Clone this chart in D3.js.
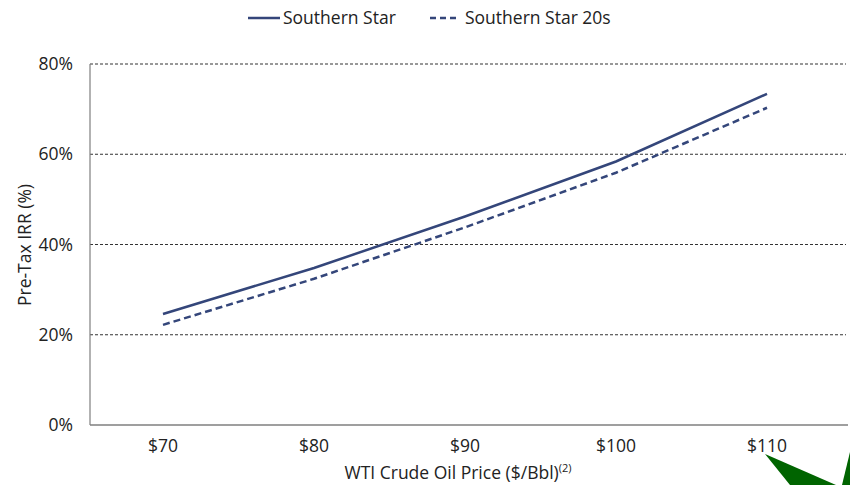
<!DOCTYPE html>
<html>
<head>
<meta charset="utf-8">
<script src="https://cdn.jsdelivr.net/npm/d3@7"></script>
<style>
  body { margin: 0; background: #fff; }
  svg text { font-family: "Open Sans", "Noto Sans", sans-serif; fill: #222; }
</style>
</head>
<body>
<div id="chart"></div>
<script>
// data
const prices = ["$70", "$80", "$90", "$100", "$110"];
const southernStar = [24.6, 34.8, 46.2, 58.4, 73.4];
const southernStar20s = [22.2, 32.4, 43.8, 55.9, 70.3];
const yTicks = [0, 20, 40, 60, 80];

const width = 850, height = 485;
const plotLeft = 90, plotRight = 848, plotTop = 64, plotBottom = 425;
const navy = "#34467a";
const fontSize = "17.5px";

const svg = d3.select("#chart").append("svg")
    .attr("width", width).attr("height", height);

const x = d3.scalePoint().domain(prices).range([87.5, 842.5]).padding(0.5);
const y = d3.scaleLinear().domain([0, 80]).range([plotBottom, plotTop]);

// dashed gridlines
svg.append("g").selectAll("line")
    .data(yTicks.filter(d => d > 0))
    .enter().append("line")
    .attr("x1", plotLeft).attr("x2", plotRight - 2)
    .attr("y1", d => y(d)).attr("y2", d => y(d))
    .attr("stroke", "#333").attr("stroke-width", 1)
    .attr("stroke-dasharray", "3,2");

// axes frame
svg.append("line").attr("x1", plotLeft).attr("x2", plotLeft)
    .attr("y1", plotTop).attr("y2", plotBottom)
    .attr("stroke", "#7f7f7f").attr("stroke-width", 1.2);
svg.append("line").attr("x1", plotLeft).attr("x2", plotRight)
    .attr("y1", plotBottom).attr("y2", plotBottom)
    .attr("stroke", "#7f7f7f").attr("stroke-width", 1.5);

// y tick labels
svg.append("g").selectAll("text")
    .data(yTicks)
    .enter().append("text")
    .attr("x", 73).attr("y", d => y(d))
    .attr("dy", "0.35em")
    .attr("text-anchor", "end")
    .style("font-size", fontSize)
    .text(d => d + "%");

// x tick labels
svg.append("g").selectAll("text")
    .data(prices)
    .enter().append("text")
    .attr("x", d => x(d)).attr("y", 452)
    .attr("text-anchor", "middle")
    .style("font-size", fontSize)
    .text(d => d);

// axis titles
svg.append("text")
    .attr("transform", "translate(31,245) rotate(-90)")
    .attr("text-anchor", "middle")
    .style("font-size", fontSize)
    .text("Pre-Tax IRR (%)");

const xt = svg.append("text")
    .attr("x", 458).attr("y", 479)
    .attr("text-anchor", "middle")
    .style("font-size", fontSize);
xt.append("tspan").text("WTI Crude Oil Price ($/Bbl)");
xt.append("tspan").attr("dy", -7).style("font-size", "11px").text("(2)");

// series lines
const line = d3.line()
    .x((d, i) => x(prices[i]))
    .y(d => y(d));

svg.append("path").datum(southernStar)
    .attr("fill", "none").attr("stroke", navy)
    .attr("stroke-width", 2.5).attr("d", line);

svg.append("path").datum(southernStar20s)
    .attr("fill", "none").attr("stroke", navy)
    .attr("stroke-width", 2.5)
    .attr("stroke-dasharray", "7,4")
    .attr("d", line);

// legend
const legend = svg.append("g");
legend.append("line").attr("x1", 248).attr("x2", 280).attr("y1", 18).attr("y2", 18)
    .attr("stroke", navy).attr("stroke-width", 2.5);
legend.append("text").attr("x", 283).attr("y", 18).attr("dy", "0.35em")
    .style("font-size", fontSize).text("Southern Star");
legend.append("line").attr("x1", 430).attr("x2", 460).attr("y1", 18).attr("y2", 18)
    .attr("stroke", navy).attr("stroke-width", 2.5).attr("stroke-dasharray", "6,4");
legend.append("text").attr("x", 465).attr("y", 18).attr("dy", "0.35em")
    .style("font-size", fontSize).text("Southern Star 20s");

// green logo fragment at the bottom-right corner of the slide
svg.append("path")
    .attr("d", "M765,454 L836,485 L790,485 Z")
    .attr("fill", "#006400");
svg.append("path")
    .attr("d", "M850,452 L850,485 L842,485 Z")
    .attr("fill", "#006400");
</script>
</body>
</html>
